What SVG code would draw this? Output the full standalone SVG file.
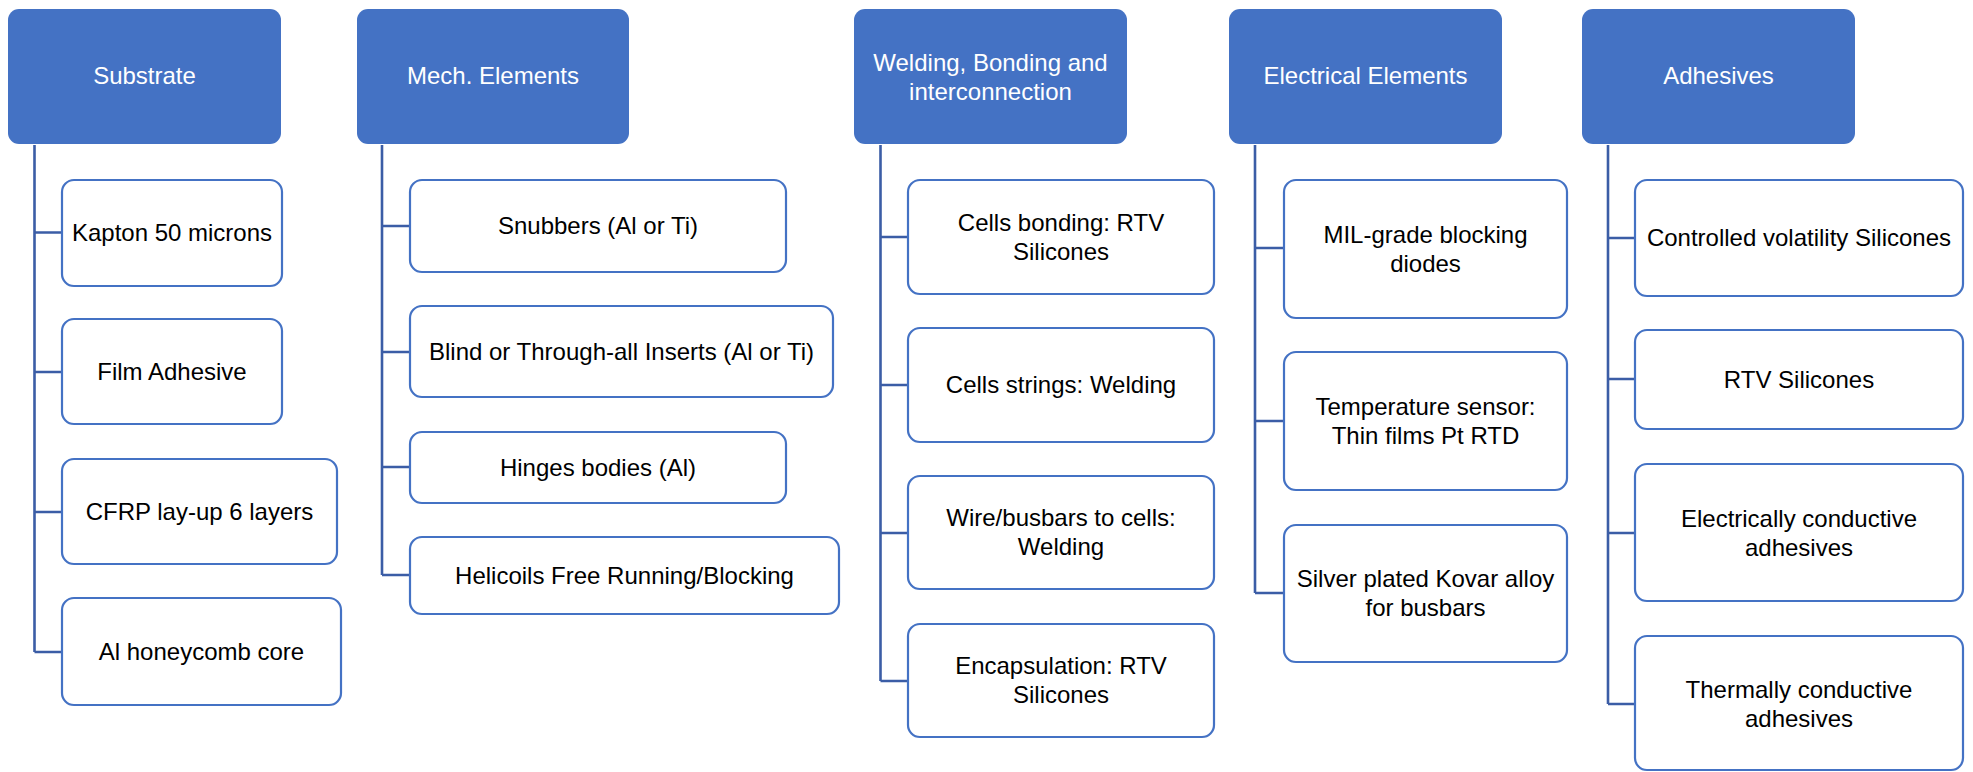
<svg xmlns="http://www.w3.org/2000/svg" width="1973" height="772" viewBox="0 0 1973 772">
<style>
.h rect{fill:#4472C4;stroke:none}
.h text{fill:#FFFFFF}
.c rect{fill:#FFFFFF;stroke:#4472C4;stroke-width:2.2}
.c text{fill:#000000}
text{font-family:"Liberation Sans",Arial,sans-serif;font-size:24px;text-anchor:middle}
.links path{fill:none;stroke:#3B5DA6;stroke-width:2.6}
</style>
<rect x="0" y="0" width="1973" height="772" fill="#FFFFFF"/>
<g class="links">
<path d="M34.5,145 V652 M34.5,232.5 H62 M34.5,372 H62 M34.5,512 H62 M34.5,652 H62"/>
<path d="M382,145 V575 M382,226 H410 M382,352 H410 M382,467 H410 M382,575 H410"/>
<path d="M880.5,145 V681 M880.5,237 H908 M880.5,385 H908 M880.5,533 H908 M880.5,681 H908"/>
<path d="M1255,145 V593 M1255,248 H1284 M1255,421 H1284 M1255,593 H1284"/>
<path d="M1608,145 V704 M1608,238 H1635 M1608,379 H1635 M1608,533 H1635 M1608,704 H1635"/>
</g>
<g id="substrate" class="h"><rect x="8" y="9" width="273" height="135" rx="11"/><text x="144.5" y="84">Substrate</text></g>
<g id="mech" class="h"><rect x="357" y="9" width="272" height="135" rx="11"/><text x="493" y="84">Mech. Elements</text></g>
<g id="welding" class="h"><rect x="854" y="9" width="273" height="135" rx="11"/><text x="990.5" y="70.5">Welding, Bonding and</text><text x="990.5" y="99.5">interconnection</text></g>
<g id="electrical" class="h"><rect x="1229" y="9" width="273" height="135" rx="11"/><text x="1365.5" y="84">Electrical Elements</text></g>
<g id="adhesives" class="h"><rect x="1582" y="9" width="273" height="135" rx="11"/><text x="1718.5" y="84">Adhesives</text></g>

<g id="kapton" class="c"><rect x="62" y="180" width="220" height="106" rx="12"/><text x="172" y="241">Kapton 50 microns</text></g>
<g id="film" class="c"><rect x="62" y="319" width="220" height="105" rx="12"/><text x="172" y="380">Film Adhesive</text></g>
<g id="cfrp" class="c"><rect x="62" y="459" width="275" height="105" rx="12"/><text x="199.5" y="520">CFRP lay-up 6 layers</text></g>
<g id="honeycomb" class="c"><rect x="62" y="598" width="279" height="107" rx="12"/><text x="201.5" y="660">Al honeycomb core</text></g>

<g id="snubbers" class="c"><rect x="410" y="180" width="376" height="92" rx="12"/><text x="598" y="234">Snubbers (Al or Ti)</text></g>
<g id="inserts" class="c"><rect x="410" y="306" width="423" height="91" rx="12"/><text x="621.5" y="360">Blind or Through-all Inserts (Al or Ti)</text></g>
<g id="hinges" class="c"><rect x="410" y="432" width="376" height="71" rx="12"/><text x="598" y="476">Hinges bodies (Al)</text></g>
<g id="helicoils" class="c"><rect x="410" y="537" width="429" height="77" rx="12"/><text x="624.5" y="584">Helicoils Free Running/Blocking</text></g>

<g id="cellsbonding" class="c"><rect x="908" y="180" width="306" height="114" rx="12"/><text x="1061" y="231">Cells bonding: RTV</text><text x="1061" y="260">Silicones</text></g>
<g id="cellsstrings" class="c"><rect x="908" y="328" width="306" height="114" rx="12"/><text x="1061" y="393">Cells strings: Welding</text></g>
<g id="wire" class="c"><rect x="908" y="476" width="306" height="113" rx="12"/><text x="1061" y="526">Wire/busbars to cells:</text><text x="1061" y="555">Welding</text></g>
<g id="encapsulation" class="c"><rect x="908" y="624" width="306" height="113" rx="12"/><text x="1061" y="674">Encapsulation: RTV</text><text x="1061" y="703">Silicones</text></g>

<g id="mil" class="c"><rect x="1284" y="180" width="283" height="138" rx="12"/><text x="1425.5" y="243">MIL-grade blocking</text><text x="1425.5" y="272">diodes</text></g>
<g id="temp" class="c"><rect x="1284" y="352" width="283" height="138" rx="12"/><text x="1425.5" y="415">Temperature sensor:</text><text x="1425.5" y="444">Thin films Pt RTD</text></g>
<g id="silver" class="c"><rect x="1284" y="525" width="283" height="137" rx="12"/><text x="1425.5" y="587">Silver plated Kovar alloy</text><text x="1425.5" y="616">for busbars</text></g>

<g id="controlled" class="c"><rect x="1635" y="180" width="328" height="116" rx="12"/><text x="1799" y="246">Controlled volatility Silicones</text></g>
<g id="rtv" class="c"><rect x="1635" y="330" width="328" height="99" rx="12"/><text x="1799" y="388">RTV Silicones</text></g>
<g id="electrically" class="c"><rect x="1635" y="464" width="328" height="137" rx="12"/><text x="1799" y="527">Electrically conductive</text><text x="1799" y="556">adhesives</text></g>
<g id="thermally" class="c"><rect x="1635" y="636" width="328" height="134" rx="12"/><text x="1799" y="698">Thermally conductive</text><text x="1799" y="727">adhesives</text></g>
</svg>
